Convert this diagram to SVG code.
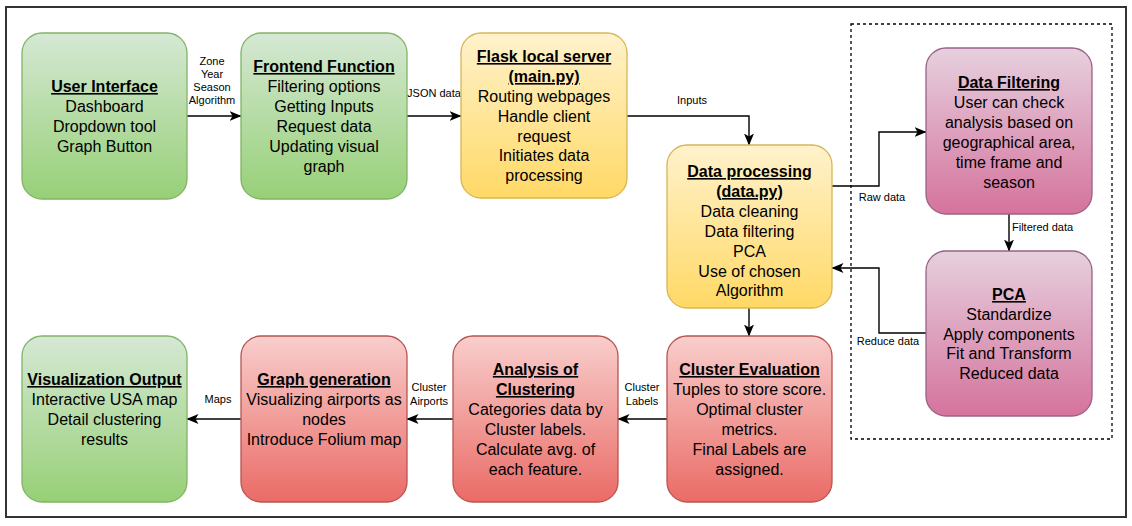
<svg xmlns="http://www.w3.org/2000/svg" width="1132" height="526" viewBox="0 0 1132 526">
<defs>
<linearGradient id="gG" x1="0" y1="0" x2="0" y2="1"><stop offset="0" stop-color="#d5e8d4"/><stop offset="1" stop-color="#97d077"/></linearGradient>
<linearGradient id="gY" x1="0" y1="0" x2="0" y2="1"><stop offset="0" stop-color="#fff2cc"/><stop offset="1" stop-color="#ffd966"/></linearGradient>
<linearGradient id="gP" x1="0" y1="0" x2="0" y2="1"><stop offset="0" stop-color="#e6d0de"/><stop offset="1" stop-color="#d5739d"/></linearGradient>
<linearGradient id="gR" x1="0" y1="0" x2="0" y2="1"><stop offset="0" stop-color="#f8cecc"/><stop offset="1" stop-color="#ea6b66"/></linearGradient>
<marker id="arr" viewBox="0 0 12 10" refX="11.5" refY="5" markerWidth="12" markerHeight="10" markerUnits="userSpaceOnUse" orient="auto">
<path d="M0,0 L12,5 L0,10 L3,5 Z" fill="#000"/>
</marker>
</defs>
<style>
.n text{font-family:"Liberation Sans",Arial,sans-serif;font-size:16px;fill:#000;text-anchor:middle}
.n .t{font-weight:bold;text-decoration:underline}
.green{fill:url(#gG);stroke:#82b366;stroke-width:1.3}
.yellow{fill:url(#gY);stroke:#d6b656;stroke-width:1.3}
.pink{fill:url(#gP);stroke:#996185;stroke-width:1.3}
.red{fill:url(#gR);stroke:#b85450;stroke-width:1.3}
.e path{fill:none;stroke:#000;stroke-width:1.4;marker-end:url(#arr)}
.e text{font-family:"Liberation Sans",Arial,sans-serif;font-size:11px;fill:#000;text-anchor:middle}
</style>
<rect x="6" y="7" width="1120" height="510" fill="#fff" stroke="#333" stroke-width="2"/>
<rect id="group-box" x="851" y="24" width="261" height="415" fill="none" stroke="#000" stroke-width="1.3" stroke-dasharray="3,3"/>

<g id="connectors" class="e">
<path d="M187,116 L241,116"/>
<text x="212" y="65">Zone</text><text x="212" y="78">Year</text><text x="212" y="91">Season</text><text x="212" y="104">Algorithm</text>
<path d="M407,116 L461,116"/>
<text x="434" y="97">JSON data</text>
<path d="M627,116 L749,116 L749,145"/>
<text x="692" y="104">Inputs</text>
<path d="M832,186 L879,186 L879,132 L926,132"/>
<text x="882" y="201">Raw data</text>
<path d="M1009,214 L1009,251"/>
<text x="1012" y="231" style="text-anchor:start">Filtered data</text>
<path d="M926,333 L879,333 L879,268 L832,268"/>
<text x="888" y="345">Reduce data</text>
<path d="M749,308 L749,336"/>
<path d="M667,419 L618,419"/>
<text x="642" y="391">Cluster</text><text x="642" y="405">Labels</text>
<path d="M453,419 L407,419"/>
<text x="429" y="391">Cluster</text><text x="429" y="405">Airports</text>
<path d="M241,419 L187,419"/>
<text x="218" y="403">Maps</text>
</g>

<g id="user-interface" class="n">
<rect class="green" x="22" y="33" width="165" height="166" rx="20"/>
<text x="104.5" y="92" class="t">User Interface</text>
<text x="104.5" y="112">Dashboard</text>
<text x="104.5" y="132">Dropdown tool</text>
<text x="104.5" y="152">Graph Button</text>
</g>

<g id="frontend-function" class="n">
<rect class="green" x="241" y="33" width="166" height="166" rx="20"/>
<text x="324" y="72" class="t">Frontend Function</text>
<text x="324" y="92">Filtering options</text>
<text x="324" y="112">Getting Inputs</text>
<text x="324" y="132">Request data</text>
<text x="324" y="152">Updating visual</text>
<text x="324" y="172">graph</text>
</g>

<g id="flask-server" class="n">
<rect class="yellow" x="461" y="33" width="166" height="165" rx="20"/>
<text x="544" y="62" class="t">Flask local server</text>
<text x="544" y="82" class="t">(main.py)</text>
<text x="544" y="102">Routing webpages</text>
<text x="544" y="122">Handle client</text>
<text x="544" y="142">request</text>
<text x="544" y="161">Initiates data</text>
<text x="544" y="181">processing</text>
</g>

<g id="data-processing" class="n">
<rect class="yellow" x="667" y="145" width="165" height="163" rx="20"/>
<text x="749.5" y="177" class="t">Data processing</text>
<text x="749.5" y="197" class="t">(data.py)</text>
<text x="749.5" y="217">Data cleaning</text>
<text x="749.5" y="237">Data filtering</text>
<text x="749.5" y="257">PCA</text>
<text x="749.5" y="277">Use of chosen</text>
<text x="749.5" y="296">Algorithm</text>
</g>

<g id="data-filtering" class="n">
<rect class="pink" x="926" y="48" width="166" height="166" rx="20"/>
<text x="1009" y="88" class="t">Data Filtering</text>
<text x="1009" y="108">User can check</text>
<text x="1009" y="128">analysis based on</text>
<text x="1009" y="148">geographical area,</text>
<text x="1009" y="168">time frame and</text>
<text x="1009" y="188">season</text>
</g>

<g id="pca" class="n">
<rect class="pink" x="926" y="251" width="166" height="165" rx="20"/>
<text x="1009" y="300" class="t">PCA</text>
<text x="1009" y="320">Standardize</text>
<text x="1009" y="340">Apply components</text>
<text x="1009" y="359">Fit and Transform</text>
<text x="1009" y="379">Reduced data</text>
</g>

<g id="cluster-evaluation" class="n">
<rect class="red" x="667" y="336" width="165" height="166" rx="20"/>
<text x="749.5" y="375" class="t">Cluster Evaluation</text>
<text x="749.5" y="395">Tuples to store score.</text>
<text x="749.5" y="415">Optimal cluster</text>
<text x="749.5" y="435">metrics.</text>
<text x="749.5" y="455">Final Labels are</text>
<text x="749.5" y="475">assigned.</text>
</g>

<g id="analysis-of-clustering" class="n">
<rect class="red" x="453" y="336" width="165" height="166" rx="20"/>
<text x="535.5" y="375" class="t">Analysis of</text>
<text x="535.5" y="395" class="t">Clustering</text>
<text x="535.5" y="415">Categories data by</text>
<text x="535.5" y="435">Cluster labels.</text>
<text x="535.5" y="455">Calculate avg. of</text>
<text x="535.5" y="475">each feature.</text>
</g>

<g id="graph-generation" class="n">
<rect class="red" x="241" y="336" width="166" height="166" rx="20"/>
<text x="324" y="385" class="t">Graph generation</text>
<text x="324" y="405">Visualizing airports as</text>
<text x="324" y="425">nodes</text>
<text x="324" y="445">Introduce Folium map</text>
</g>

<g id="visualization-output" class="n">
<rect class="green" x="22" y="336" width="165" height="166" rx="20"/>
<text x="104.5" y="385" class="t">Visualization Output</text>
<text x="104.5" y="405">Interactive USA map</text>
<text x="104.5" y="425">Detail clustering</text>
<text x="104.5" y="445">results</text>
</g>
</svg>
